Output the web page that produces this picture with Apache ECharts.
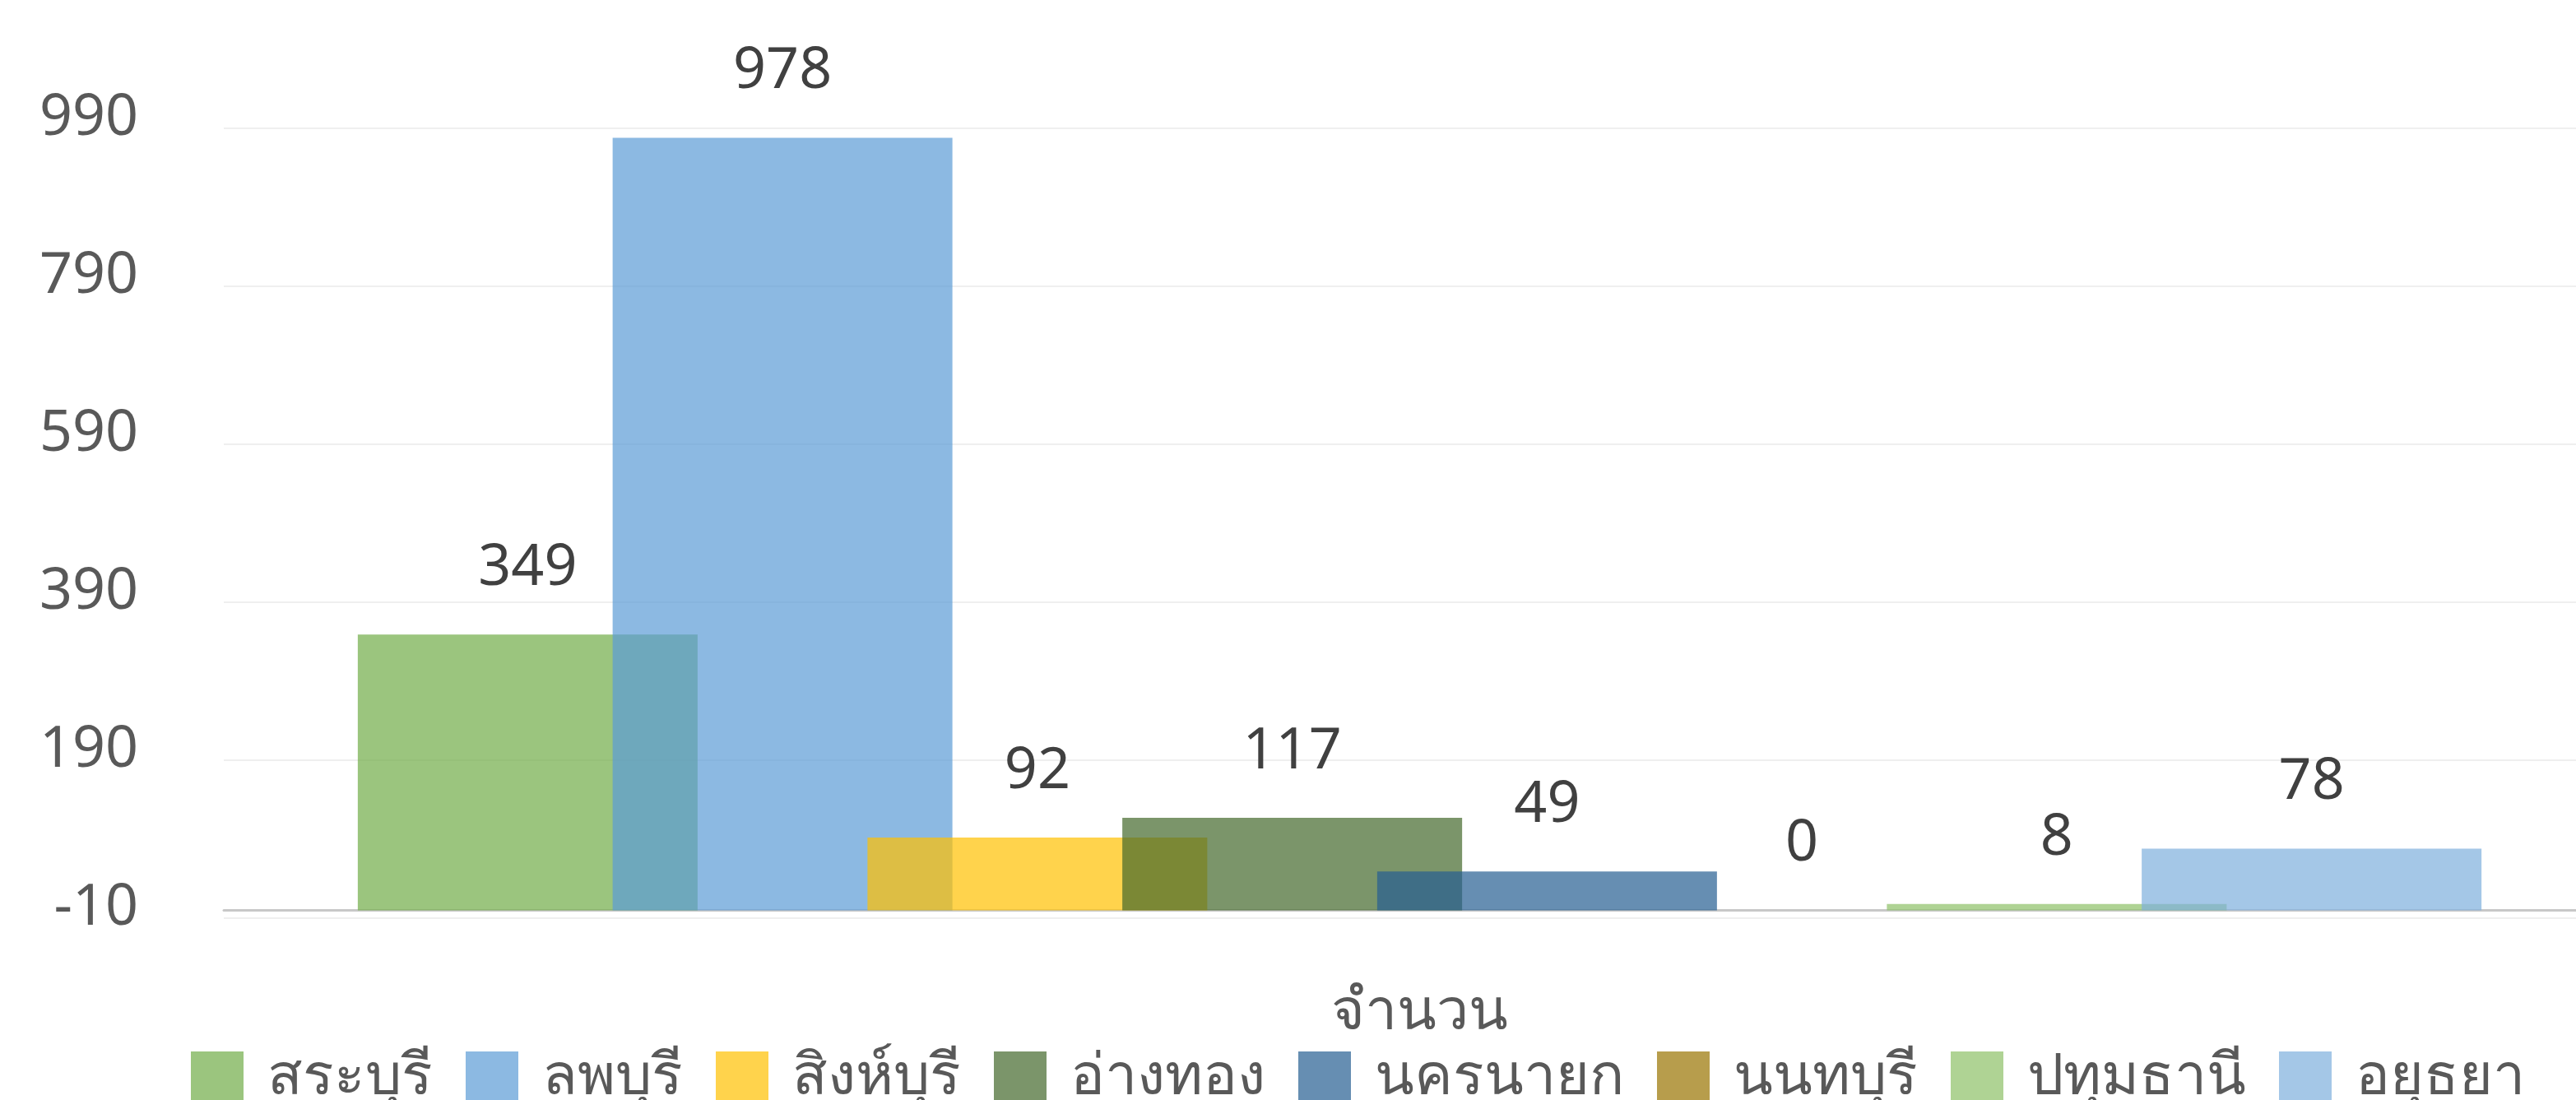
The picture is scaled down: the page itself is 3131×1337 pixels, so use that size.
<!DOCTYPE html>
<html>
<head>
<meta charset="utf-8">
<script src="https://cdn.jsdelivr.net/npm/echarts@6/dist/echarts.min.js"></script>
<style>
html,body{margin:0;padding:0;background:#fff;overflow:hidden;width:3131px;height:1337px;}
#c{width:3179px;height:1337px;}
</style>
</head>
<body>
<div id="c"></div>
<script>
const categories = ['จำนวน'];
const seriesNames = ['สระบุรี','ลพบุรี','สิงห์บุรี','อ่างทอง','นครนายก','นนทบุรี','ปทุมธานี','อยุธยา'];
const seriesValues = [[349],[978],[92],[117],[49],[0],[8],[78]];
const seriesColors = ['rgba(112,173,71,0.7)','rgba(91,155,213,0.7)','rgba(255,192,0,0.7)','rgba(67,104,43,0.7)',
                      'rgba(37,94,145,0.7)','rgba(153,115,0,0.7)','rgba(141,192,102,0.7)','rgba(125,175,221,0.7)'];
const yTicks = {min:-10, max:990, interval:200};

const FONT = '"Noto Sans", "DejaVu Sans", sans-serif';
const chart = echarts.init(document.getElementById('c'));
const series = seriesNames.map((n,i)=>({
  name:n, type:'bar', data:seriesValues[i],
  barWidth:413, barGap:'-25%',
  itemStyle:{color:seriesColors[i]},
  label:{show:true, position:'top', distance:45, color:'#404040', fontSize:70, fontFamily:FONT},
  emphasis:{disabled:true}
}));
chart.setOption({
  animation:false,
  textStyle:{fontFamily:FONT},
  grid:{left:272, right:0, top:156, bottom:221, containLabel:false},
  legend:{
    left:227, top:1270, width:3100, itemWidth:64, itemHeight:64, itemGap:40,
    icon:'rect',
    textStyle:{fontSize:70, color:'#595959', fontFamily:FONT, padding:[0,0,0,24]},
    data:seriesNames
  },
  xAxis:{
    type:'category', data:categories,
    axisLine:{show:true, onZero:true, lineStyle:{color:'#C8C8C8', width:3}},
    axisTick:{show:false},
    axisLabel:{fontSize:70, color:'#595959', margin:80, fontFamily:FONT}
  },
  yAxis:{
    type:'value', min:yTicks.min, max:yTicks.max, interval:yTicks.interval,
    axisLine:{show:false}, axisTick:{show:false},
    splitLine:{lineStyle:{color:'#EFEFEF', width:2}},
    axisLabel:{margin:104, formatter:'{a|{value}}',
      rich:{a:{fontSize:70, color:'#595959', fontFamily:FONT, padding:[0,0,24,0]}}}
  },
  series:series
});
</script>
</body>
</html>
